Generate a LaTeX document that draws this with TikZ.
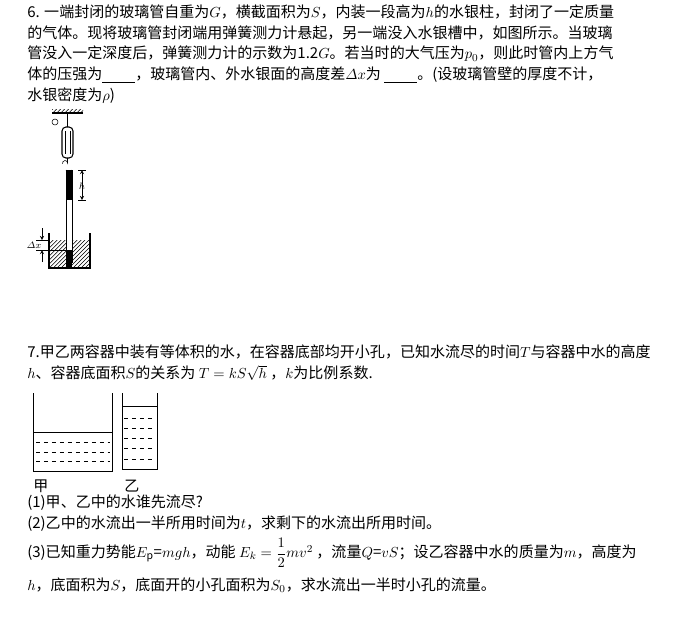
\documentclass[tikz,border=0pt]{standalone}
\usepackage{amsmath, amssymb}
\usepackage{fontspec}
\setmainfont{Noto Sans CJK SC}
\usetikzlibrary{patterns}
\tikzset{line/.style={anchor=west,inner sep=0pt,font=\fontsize{11.3}{13}\selectfont},
  hatch/.style={pattern=north east lines},
  dash line/.style={dashed,thin}}
\begin{document}
\begin{tikzpicture}[x=0.02646cm,y=-0.02646cm,>=stealth]
\useasboundingbox (0,0) rectangle (680,624);
%6
\node[line] (l1) at (27,12) {6. 一端封闭的玻璃管自重为$G$，横截面积为$S$，内装一段高为$h$的水银柱，封闭了一定质量};
\node[line] (l2) at (27,33) {的气体。现将玻璃管封闭端用弹簧测力计悬起，另一端没入水银槽中，如图所示。当玻璃};
\node[line] (l3) at (27,54) {管没入一定深度后，弹簧测力计的示数为1.2$G$。若当时的大气压为$p_0$，则此时管内上方气};
\node[line] (l4) at (27,75) {体的压强为\underline{\hspace{2.2em}}，玻璃管内、外水银面的高度差$\varDelta x$为 \underline{\hspace{2.2em}}。(设玻璃管壁的厚度不计，};
\node[line] (l5) at (27,96) {水银密度为$\rho$)};
% ceiling and spring balance
\fill[hatch] (52,109) rectangle (83,113);
\draw[thick] (52,113) -- (83,113);
\draw (55,122) circle (3);
\draw (67,113) -- (67,127);
\draw[thick,rounded corners=3] (62,127) rectangle (73,158);
\draw (65,131) -- (65,154) (70,131) -- (70,154);
\draw (67.5,158) -- (67.5,163) arc (0:-200:2.5);
% tube
\draw (66,170) -- (66,263) (72,170) -- (72,263);
\draw (66,170) arc (180:0:3);
\fill (66,170) rectangle (72,200);
\fill (66,250) rectangle (72,268);
% trough
\fill[hatch] (49,240) rectangle (66,268);
\fill[hatch] (72,240) rectangle (90,268);
\draw[thick] (49,233) -- (49,268) -- (90,268) -- (90,233);
% h marker
\draw (78,170) -- (86,170) (78,200) -- (86,200);
\draw[->] (82,185) -- (82,170);
\draw[->] (82,185) -- (82,200);
\node[font=\scriptsize\itshape] (hlab) at (82,186) {$h$};
% dx marker
\draw (36,240) -- (49,240) (36,250) -- (66,250);
\draw[->] (42,228) -- (42,240);
\draw[->] (42,262) -- (42,250);
\node[font=\scriptsize] (dxlab) at (34,245) {$\varDelta x$};
%7
\node[line] (m1) at (27,352) {7.甲乙两容器中装有等体积的水，在容器底部均开小孔，已知水流尽的时间$T$与容器中水的高度};
\node[line] (m2) at (27,373) {$h$、容器底面积$S$的关系为 $T=kS\sqrt{h}$ ，$k$为比例系数.};
% containers
\draw (33,393) -- (33,471) -- (112,471) -- (112,393);
\draw (33,432) -- (112,432);
\foreach \y in {442,452,461} \draw[dash line] (36,\y) -- (110,\y);
\draw (122,393) -- (122,469) -- (157,469) -- (157,393);
\draw (122,406) -- (157,406);
\foreach \y in {418,428,438,448,459} \draw[dash line] (124,\y) -- (155,\y);
\node[line] (jia) at (33,486) {甲};
\node[line] (yi) at (124,486) {乙};
\node[line] (q1) at (27,503) {(1)甲、乙中的水谁先流尽?};
\node[line] (q2) at (27,524) {(2)乙中的水流出一半所用时间为$t$，求剩下的水流出所用时间。};
\node[line] (q3) at (27,553) {(3)已知重力势能$E_{\mathrm p}$=$mgh$，动能 $E_k=\dfrac{1}{2}mv^2$ ，流量$Q$=$vS$；设乙容器中水的质量为$m$，高度为};
\node[line] (q4) at (27,585) {$h$，底面积为$S$，底面开的小孔面积为$S_0$，求水流出一半时小孔的流量。};
\end{tikzpicture}
\end{document}
